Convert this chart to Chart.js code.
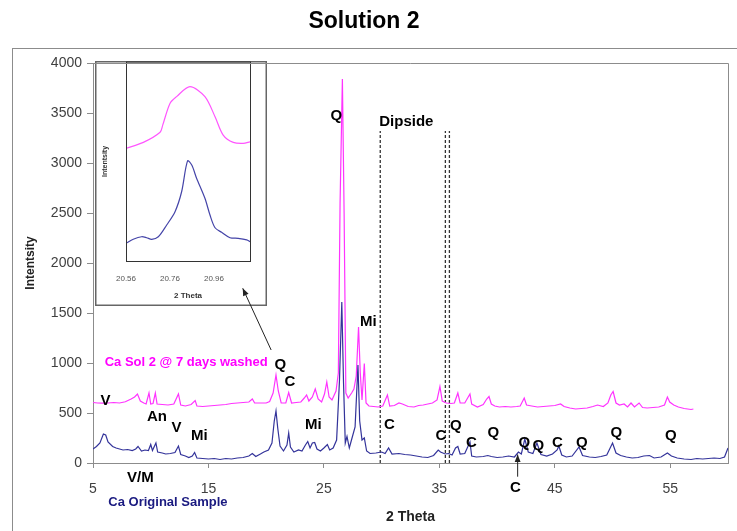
<!DOCTYPE html>
<html>
<head>
<meta charset="utf-8">
<script src="https://cdn.jsdelivr.net/npm/chart.js@4"></script>
<style>
  body { margin: 0; background: #fff; }
  #wrap { position: relative; width: 737px; height: 531px; }
  #main { position: absolute; left: 0; top: 0; z-index: 2; }
  #inset { position: absolute; left: 95px; top: 61px; z-index: 1; }
</style>
</head>
<body>
<div id="wrap">
  <canvas id="inset" width="172" height="245"></canvas>
  <canvas id="main" width="737" height="531"></canvas>
</div>
<script>
const FONT = "'Liberation Sans', Arial, sans-serif";

// 2 theta / counts
const originalScan = [
  [5.0,140],[5.3,165],[5.6,200],[5.9,290],[6.1,280],[6.3,210],[6.7,165],[7.0,150],[7.3,140],[7.6,130],
  [8.0,135],[8.4,125],[8.7,140],[8.9,165],[9.2,120],[9.5,130],[9.8,125],[10.0,185],[10.15,125],[10.45,200],
  [10.6,110],[11.0,100],[11.3,90],[11.7,95],[12.1,105],[12.4,170],[12.6,85],[13.0,70],[13.3,55],[13.6,70],
  [13.8,105],[14.0,50],[14.5,45],[15.0,40],[15.5,45],[16.0,35],[16.5,45],[17.0,40],[17.5,50],[18.0,55],
  [18.5,70],[18.8,95],[19.1,65],[19.5,90],[19.8,110],[20.2,130],[20.5,200],[20.7,420],[20.85,520],[21.0,350],
  [21.2,170],[21.5,120],[21.8,180],[21.95,300],[22.1,160],[22.4,110],[22.8,130],[23.1,120],[23.4,180],[23.6,215],
  [23.8,150],[24.0,200],[24.2,205],[24.4,140],[24.7,120],[25.0,150],[25.3,185],[25.5,130],[25.8,150],[26.1,230],
  [26.35,830],[26.55,1610],[26.7,800],[26.85,200],[27.0,265],[27.2,150],[27.4,235],[27.7,360],[27.95,980],[28.1,420],
  [28.3,230],[28.5,250],[28.7,120],[29.0,95],[29.5,100],[30.0,110],[30.3,95],[30.6,150],[30.9,90],[31.5,95],
  [32.0,85],[32.5,80],[33.0,70],[33.5,60],[34.0,55],[34.5,75],[34.9,130],[35.1,110],[35.5,90],[35.8,95],
  [36.1,80],[36.4,150],[36.6,165],[36.8,90],[37.2,95],[37.65,210],[37.8,70],[38.2,60],[38.8,65],[39.2,75],
  [39.5,65],[40.0,55],[40.5,60],[41.0,70],[41.5,60],[41.85,110],[42.1,90],[42.4,240],[42.7,110],[43.1,95],
  [43.45,200],[43.8,85],[44.3,70],[44.8,90],[45.2,130],[45.35,170],[45.6,80],[46.0,60],[46.5,70],[47.1,160],
  [47.4,75],[48.0,60],[48.5,55],[49.0,65],[49.5,80],[50.0,200],[50.3,100],[50.7,75],[51.2,60],[51.7,50],
  [52.2,55],[52.7,70],[53.2,75],[53.6,50],[54.2,60],[54.75,100],[55.1,70],[55.6,50],[56.2,40],[56.8,35],
  [57.3,45],[57.8,40],[58.3,45],[58.8,50],[59.3,45],[59.7,60],[60.0,150]
];

const washedScan = [
  [5.0,605],[5.4,600],[5.8,598],[6.3,600],[6.8,605],[7.3,600],[7.8,612],[8.3,640],[8.6,660],[8.85,690],
  [9.1,620],[9.4,600],[9.6,590],[9.85,700],[10.0,590],[10.2,595],[10.4,700],[10.55,590],[11.0,585],[11.5,580],
  [12.0,590],[12.4,690],[12.6,580],[13.0,570],[13.5,585],[13.85,625],[14.0,570],[14.5,565],[15.0,570],[15.5,575],
  [16.0,580],[16.5,585],[17.0,595],[17.5,600],[18.0,605],[18.5,610],[18.8,640],[19.0,600],[19.5,600],[20.0,600],
  [20.3,615],[20.6,700],[20.85,880],[21.05,720],[21.3,600],[21.7,600],[21.95,705],[22.2,600],[22.6,605],[23.0,610],
  [23.3,650],[23.5,680],[23.7,620],[24.0,660],[24.25,740],[24.5,640],[24.8,610],[25.05,690],[25.25,810],[25.45,660],
  [25.7,630],[26.05,720],[26.25,900],[26.4,2600],[26.6,3840],[26.75,2500],[26.9,700],[27.1,650],[27.4,700],[27.6,740],
  [27.8,870],[28.0,1360],[28.15,900],[28.3,630],[28.5,995],[28.65,600],[28.9,570],[29.3,565],[29.7,560],[30.1,570],
  [30.5,680],[30.7,570],[31.1,575],[31.5,600],[31.8,590],[32.3,565],[32.8,560],[33.2,575],[33.6,580],[34.0,590],
  [34.4,600],[34.8,630],[35.05,765],[35.25,620],[35.6,600],[36.0,595],[36.3,600],[36.6,700],[36.8,600],[37.2,600],
  [37.65,690],[37.8,590],[38.3,560],[38.8,585],[39.1,640],[39.3,665],[39.5,590],[39.8,570],[40.2,560],[40.7,565],
  [41.2,560],[41.7,565],[42.0,570],[42.35,650],[42.55,580],[43.0,570],[43.5,560],[44.0,565],[44.5,570],[45.0,575],
  [45.5,590],[45.8,565],[46.3,550],[46.8,540],[47.3,545],[47.8,550],[48.3,565],[48.7,580],[49.2,565],[49.6,600],
  [49.85,680],[50.05,715],[50.3,600],[50.6,580],[51.0,590],[51.3,560],[51.6,600],[51.9,560],[52.3,600],[52.6,555],
  [53.0,550],[53.5,555],[54.0,560],[54.5,580],[54.75,660],[54.95,610],[55.3,580],[55.7,560],[56.2,545],[56.8,535],
  [57.0,540]
];

const dipsideTheta = [29.88, 35.52, 35.87];
const dipsideTop = 3320;
const xTicks = [5, 15, 25, 35, 45, 55];

// inset: zoom on the 20.85 quartz peak (relative intensity)
const insetWashed = [
  [20.56,56.6],[20.639,59.6],[20.715,64.7],[20.727,68.3],[20.76,79.2],[20.79,82.6],[20.851,87.6],
  [20.919,82.6],[20.965,72.5],[21.002,63.3],[21.048,59.6],[21.093,59.1],[21.124,59.9]
];
const insetOriginal = [
  [20.56,8.9],[20.593,10.9],[20.631,12.2],[20.654,11.7],[20.677,10.9],[20.707,12.2],[20.745,18.1],
  [20.783,24.8],[20.813,34.8],[20.84,50.3],[20.859,48.2],[20.881,41.6],[20.919,31.5],[20.942,23.1],
  [20.965,16.7],[20.995,14.4],[21.033,11.7],[21.07,11.4],[21.109,10.6],[21.124,9.7]
];
const insetTicks = [20.56, 20.76, 20.96];

// phase markers: text, 2 theta, counts
const phaseLabels = [
  ['Q',26.08,3470],['Dipside',32.14,3410],['Mi',28.85,1410],['Q',21.23,980],['C',22.06,810],
  ['V',6.08,625],['An',10.54,460],['V',12.23,355],['Mi',14.22,270],['V/M',9.11,-150],
  ['Mi',24.09,380],['C',30.67,380],['C',35.13,270],['Q',36.43,370],['C',37.77,205],
  ['Q',39.68,305],['Q',42.36,205],['Q',43.57,170],['C',45.22,205],['Q',47.34,205],
  ['Q',50.32,305],['Q',55.04,270],['C',41.58,-250]
];
const seriesLabels = [
  ['Ca Sol 2 @ 7 days washed', 13.07, 1010, '#ff00ff'],
  ['Ca Original Sample', 11.49, -390, '#1a1a80']
];
const arrows = [
  [20.43, 1130, 17.97, 1747],
  [41.78, -137, 41.78, 85]
];

const toXY = pts => pts.map(p => ({ x: p[0], y: p[1] }));

function drawArrow(ctx, x1, y1, x2, y2) {
  ctx.beginPath();
  ctx.moveTo(x1, y1);
  ctx.lineTo(x2, y2);
  ctx.stroke();
  const a = Math.atan2(y2 - y1, x2 - x1);
  ctx.beginPath();
  ctx.moveTo(x2, y2);
  ctx.lineTo(x2 - 8 * Math.cos(a - 0.38), y2 - 8 * Math.sin(a - 0.38));
  ctx.lineTo(x2 - 8 * Math.cos(a + 0.38), y2 - 8 * Math.sin(a + 0.38));
  ctx.closePath();
  ctx.fill();
}

const mainDecor = {
  id: 'mainDecor',
  beforeDraw(chart) {
    const ctx = chart.ctx;
    ctx.save();
    ctx.strokeStyle = '#8c8c8c';
    ctx.lineWidth = 1;
    ctx.strokeRect(12.5, 48.5, 740, 500);
    ctx.restore();
  },
  afterDraw(chart) {
    const { ctx, chartArea: ca, scales: { x, y } } = chart;
    ctx.save();
    ctx.strokeStyle = '#8c8c8c';
    ctx.lineWidth = 1;
    ctx.beginPath();
    ctx.moveTo(ca.left, ca.top + 0.5);
    ctx.lineTo(ca.right + 0.5, ca.top + 0.5);
    ctx.lineTo(ca.right + 0.5, ca.bottom);
    ctx.stroke();

    ctx.textAlign = 'center';
    ctx.textBaseline = 'middle';
    ctx.fillStyle = '#000';
    ctx.font = 'bold 15px ' + FONT;
    phaseLabels.forEach(([t, tx, ty]) => {
      ctx.fillText(t, x.getPixelForValue(tx), y.getPixelForValue(ty));
    });
    ctx.font = 'bold 13px ' + FONT;
    seriesLabels.forEach(([t, tx, ty, c]) => {
      ctx.fillStyle = c;
      ctx.fillText(t, x.getPixelForValue(tx), y.getPixelForValue(ty));
    });

    ctx.strokeStyle = '#222';
    ctx.fillStyle = '#222';
    ctx.lineWidth = 1;
    arrows.forEach(([x1, y1, x2, y2]) => {
      drawArrow(ctx, x.getPixelForValue(x1), y.getPixelForValue(y1), x.getPixelForValue(x2), y.getPixelForValue(y2));
    });
    ctx.restore();
  }
};

const dipsideSets = dipsideTheta.map(t => ({
  data: [{ x: t, y: 0 }, { x: t, y: dipsideTop }],
  borderColor: '#333',
  borderWidth: 1.3,
  borderDash: [3, 2],
  pointRadius: 0,
  order: 3
}));

new Chart(document.getElementById('main'), {
  type: 'line',
  data: {
    datasets: [
      { label: 'Ca Original Sample', data: toXY(originalScan), borderColor: '#33339a', borderWidth: 1.2, pointRadius: 0, order: 1 },
      { label: 'Ca Sol 2 @ 7 days washed', data: toXY(washedScan), borderColor: '#ff33ff', borderWidth: 1.2, pointRadius: 0, order: 2 },
      ...dipsideSets
    ]
  },
  options: {
    responsive: false,
    animation: false,
    layout: { padding: { left: 0, right: 9, top: 0, bottom: 0 } },
    plugins: {
      legend: { display: false },
      tooltip: { enabled: false },
      title: {
        display: true,
        text: 'Solution 2',
        color: '#000',
        font: { size: 23, weight: 'bold', family: FONT },
        padding: { top: 8, bottom: 27.4 }
      }
    },
    scales: {
      x: {
        type: 'linear',
        min: 5,
        max: 60,
        afterBuildTicks: s => { s.ticks = xTicks.map(v => ({ value: v })); },
        afterFit: s => { s.height = 68; },
        grid: { drawOnChartArea: false, tickLength: 5, color: '#8c8c8c' },
        border: { color: '#8c8c8c' },
        ticks: { color: '#404040', font: { size: 14, family: FONT }, padding: 13, maxRotation: 0, callback: v => String(v) },
        title: { display: true, text: '2 Theta', color: '#222', font: { size: 14, weight: 'bold', family: FONT }, padding: { top: 0, bottom: 5.6 } }
      },
      y: {
        min: 0,
        max: 4000,
        afterFit: s => { s.width = 93; },
        grid: { drawOnChartArea: false, tickLength: 6, color: '#8c8c8c' },
        border: { color: '#8c8c8c' },
        ticks: { stepSize: 500, color: '#404040', font: { size: 14, family: FONT }, padding: 5, callback: v => String(v) },
        title: { display: true, text: 'Intentsity', color: '#222', font: { size: 12, weight: 'bold', family: FONT }, padding: { top: 23, bottom: 0 } }
      }
    }
  },
  plugins: [mainDecor]
});

const insetFrame = {
  id: 'insetFrame',
  beforeDraw(chart) {
    const ctx = chart.ctx;
    ctx.save();
    ctx.fillStyle = '#fff';
    ctx.fillRect(0, 0, chart.width, chart.height);
    ctx.restore();
  },
  afterDraw(chart) {
    const { ctx, chartArea: ca } = chart;
    ctx.save();
    ctx.strokeStyle = '#666';
    ctx.lineWidth = 1.5;
    ctx.strokeRect(0.75, 0.75, chart.width - 1.5, chart.height - 1.5);
    ctx.strokeStyle = '#333';
    ctx.lineWidth = 1;
    ctx.strokeRect(ca.left + 0.5, ca.top, ca.right - ca.left, ca.bottom - ca.top + 0.5);
    ctx.restore();
  }
};

new Chart(document.getElementById('inset'), {
  type: 'line',
  data: {
    datasets: [
      { data: toXY(insetWashed), borderColor: '#ff55ff', borderWidth: 1.2, pointRadius: 0, tension: 0.3 },
      { data: toXY(insetOriginal), borderColor: '#4444a8', borderWidth: 1.2, pointRadius: 0, tension: 0.3 }
    ]
  },
  options: {
    responsive: false,
    animation: false,
    layout: { padding: { left: 0, right: 17, top: 1, bottom: 0 } },
    plugins: { legend: { display: false }, tooltip: { enabled: false } },
    scales: {
      x: {
        type: 'linear',
        min: 20.56,
        max: 21.124,
        afterBuildTicks: s => { s.ticks = insetTicks.map(v => ({ value: v })); },
        afterFit: s => { s.height = 45; },
        grid: { display: false, drawTicks: false },
        border: { display: false },
        ticks: { color: '#555', font: { size: 8, family: FONT }, padding: 13, maxRotation: 0, callback: v => v.toFixed(2) },
        title: { display: true, text: '2 Theta', color: '#333', font: { size: 8, weight: 'bold', family: FONT }, padding: { top: 0, bottom: 5 } }
      },
      y: {
        min: 0,
        max: 100,
        afterFit: s => { s.width = 31; },
        grid: { display: false, drawTicks: false },
        border: { display: false },
        ticks: { display: false },
        title: { display: true, text: 'Intentsity', color: '#333', font: { size: 7, weight: 'bold', family: FONT }, padding: { top: 6, bottom: 0 } }
      }
    }
  },
  plugins: [insetFrame]
});
</script>
</body>
</html>
